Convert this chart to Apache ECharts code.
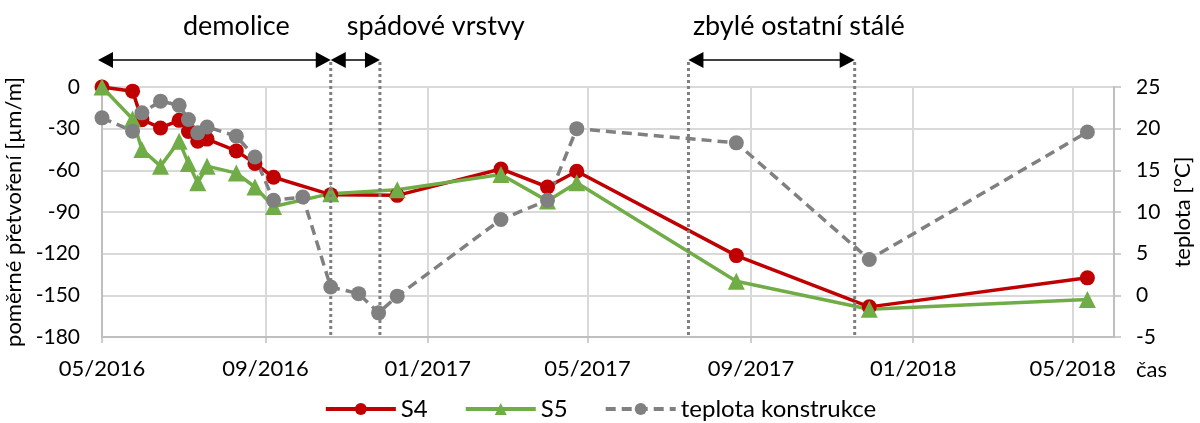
<!DOCTYPE html>
<html>
<head>
<meta charset="utf-8">
<script src="https://cdn.jsdelivr.net/npm/echarts@6/dist/echarts.min.js"></script>
<style>
  html, body { margin: 0; padding: 0; background: #fff; }
  #chart { width: 1200px; height: 423px; }
</style>
</head>
<body>
<div id="chart"></div>
<script>
// measurement dates (strain gauges S4, S5)
const strainDates = ['2016-05-01', '2016-05-24', '2016-05-31', '2016-06-14', '2016-06-28', '2016-07-05',
    '2016-07-12', '2016-07-19', '2016-08-10', '2016-08-24', '2016-09-07', '2016-10-20', '2016-12-09',
    '2017-02-25', '2017-04-01', '2017-04-23', '2017-08-21', '2017-11-29', '2018-05-12'];
const s4 = [0, -3, -23.5, -29.5, -24, -32, -39, -37.5, -46, -55, -65, -77.5, -78, -59, -72, -60.7, -121.4, -158.3, -137.4];
const s5 = [0, -23, -45, -57, -39, -55, -69, -57, -62, -72, -86, -76.8, -74, -63, -82, -69, -139.8, -160, -153];

// temperature of the structure
const tempDates = ['2016-05-01', '2016-05-24', '2016-05-31', '2016-06-14', '2016-06-28', '2016-07-05',
    '2016-07-12', '2016-07-19', '2016-08-10', '2016-08-24', '2016-09-07', '2016-09-29', '2016-10-20',
    '2016-11-10', '2016-11-25', '2016-12-09', '2017-02-25', '2017-04-01', '2017-04-23', '2017-08-21',
    '2017-11-29', '2018-05-12'];
const temp = [21.3, 19.7, 21.9, 23.3, 22.8, 21.1, 19.5, 20.2, 19.1, 16.6, 11.4, 11.8, 1.0, 0.2, -2.1, -0.1,
    9.1, 11.4, 20.0, 18.3, 4.3, 19.6];

// x axis ticks
const xTickDates = ['2016-05-01', '2016-09-01', '2017-01-01', '2017-05-01', '2017-09-01', '2018-01-01', '2018-05-01'];
const xTickLabels = ['05/2016', '09/2016', '01/2017', '05/2017', '09/2017', '01/2018', '05/2018'];

// construction phases
const phaseNames = ['demolice', 'spádové vrstvy', 'zbylé ostatní stálé'];
const phaseLabelDates = ['2016-08-10', '2017-01-07', '2017-10-07'];
const phaseStart = ['2016-04-28', '2016-10-20', '2017-07-16'];
const phaseEnd = ['2016-10-20', '2016-11-26', '2017-11-18'];
const phaseLines = ['2016-10-20', '2016-11-26', '2017-07-16', '2017-11-18'];

const font = 'Lato';
const axisGray = '#bfbfbf';
const gridGray = '#d9d9d9';

// dates as timestamps for a value axis
const t = d => +echarts.time.parse(d);
const xTicks = xTickDates.map(t);

const option = {
    animation: false,
    textStyle: { fontFamily: font },
    grid: { left: 102, right: 86, top: 87, bottom: 86, outerBoundsMode: 'none' },
    legend: {
        bottom: -3,
        left: 'center',
        itemWidth: 70,
        itemHeight: 15,
        itemGap: 36,
        lineStyle: { width: 4 },
        textStyle: { fontFamily: font, fontSize: 24, color: '#000' },
        data: ['S4', 'S5', 'teplota konstrukce']
    },
    xAxis: {
        type: 'value',
        min: t('2016-05-01'),
        max: t('2018-06-01'),
        name: 'čas',
        nameLocation: 'end',
        nameGap: 22,
        nameTextStyle: { fontFamily: font, fontSize: 22, color: '#000', verticalAlign: 'top', align: 'left', padding: [22, 0, 0, 0] },
        axisLine: { onZero: false, lineStyle: { color: axisGray, width: 2 } },
        axisTick: { show: true, length: 6, lineStyle: { color: axisGray, width: 1.5 }, customValues: xTicks },
        axisLabel: {
            customValues: xTicks,
            fontSize: 22,
            color: '#000',
            margin: 21,
            formatter: v => xTickLabels[xTicks.indexOf(v)]
        },
        splitLine: { show: true, lineStyle: { color: gridGray, width: 2 } }
    },
    yAxis: [
        {
            type: 'value',
            min: -180,
            max: 0,
            interval: 30,
            name: 'poměrné přetvoření [µm/m]',
            nameLocation: 'middle',
            nameRotate: 90,
            nameGap: 70,
            nameTextStyle: { fontFamily: font, fontSize: 22, color: '#000' },
            axisLine: { show: true, lineStyle: { color: axisGray, width: 2 } },
            axisTick: { show: false },
            axisLabel: { fontSize: 21, color: '#000', margin: 22 },
            splitLine: { show: true, lineStyle: { color: gridGray, width: 2 } }
        },
        {
            type: 'value',
            min: -5,
            max: 25,
            interval: 5,
            position: 'right',
            name: 'teplota [°C]',
            nameLocation: 'middle',
            nameRotate: 90,
            nameGap: 58,
            nameTextStyle: { fontFamily: font, fontSize: 22, color: '#000' },
            axisLine: { show: true, lineStyle: { color: axisGray, width: 2 } },
            axisTick: { show: true, inside: false, length: 7, lineStyle: { color: axisGray, width: 1.5 } },
            axisLabel: { fontSize: 21, color: '#000', margin: 22 },
            splitLine: { show: false }
        }
    ],
    series: [
        {
            name: 'S4',
            type: 'line',
            data: strainDates.map((d, i) => [t(d), s4[i]]),
            yAxisIndex: 0,
            symbol: 'circle',
            symbolSize: 15,
            lineStyle: { color: '#c00000', width: 3.5 },
            itemStyle: { color: '#c00000' }
        },
        {
            name: 'S5',
            type: 'line',
            data: strainDates.map((d, i) => [t(d), s5[i]]),
            yAxisIndex: 0,
            symbol: 'triangle',
            symbolSize: 17,
            lineStyle: { color: '#70ad47', width: 3.5 },
            itemStyle: { color: '#70ad47' }
        },
        {
            name: 'teplota konstrukce',
            type: 'line',
            data: tempDates.map((d, i) => [t(d), temp[i]]),
            yAxisIndex: 1,
            symbol: 'circle',
            symbolSize: 15,
            lineStyle: { color: '#808080', width: 3.5, type: [10, 6] },
            itemStyle: { color: '#808080' }
        }
    ]
};

const chart = echarts.init(document.getElementById('chart'));
chart.setOption(option);

// phase annotations placed through the axes
const toX = d => chart.convertToPixel({ xAxisIndex: 0 }, t(d));
const yTop = chart.convertToPixel({ yAxisIndex: 0 }, 0);
const yBottom = chart.convertToPixel({ yAxisIndex: 0 }, -180);
const arrowY = yTop - 27;
const graphics = [];

phaseLines.forEach(d => {
    const x = toX(d);
    graphics.push({
        type: 'line',
        shape: { x1: x, y1: arrowY + 2, x2: x, y2: yBottom },
        style: { stroke: '#7f7f7f', lineWidth: 3, lineDash: [3, 3] },
        z: 10
    });
});

phaseStart.forEach((d, i) => {
    const x1 = toX(d);
    const x2 = toX(phaseEnd[i]);
    graphics.push({
        type: 'line',
        shape: { x1: x1 + 10, y1: arrowY, x2: x2 - 10, y2: arrowY },
        style: { stroke: '#000', lineWidth: 1.5 },
        z: 11
    });
    graphics.push({
        type: 'polygon',
        shape: { points: [[x1, arrowY], [x1 + 15, arrowY - 8], [x1 + 15, arrowY + 8]] },
        style: { fill: '#000' },
        z: 11
    });
    graphics.push({
        type: 'polygon',
        shape: { points: [[x2, arrowY], [x2 - 15, arrowY - 8], [x2 - 15, arrowY + 8]] },
        style: { fill: '#000' },
        z: 11
    });
    graphics.push({
        type: 'text',
        x: toX(phaseLabelDates[i]),
        y: 26,
        style: {
            text: phaseNames[i],
            fontFamily: font,
            fontSize: 27,
            fill: '#000',
            align: 'center',
            verticalAlign: 'middle'
        },
        z: 11
    });
});

chart.setOption({ graphic: graphics });
</script>
</body>
</html>
